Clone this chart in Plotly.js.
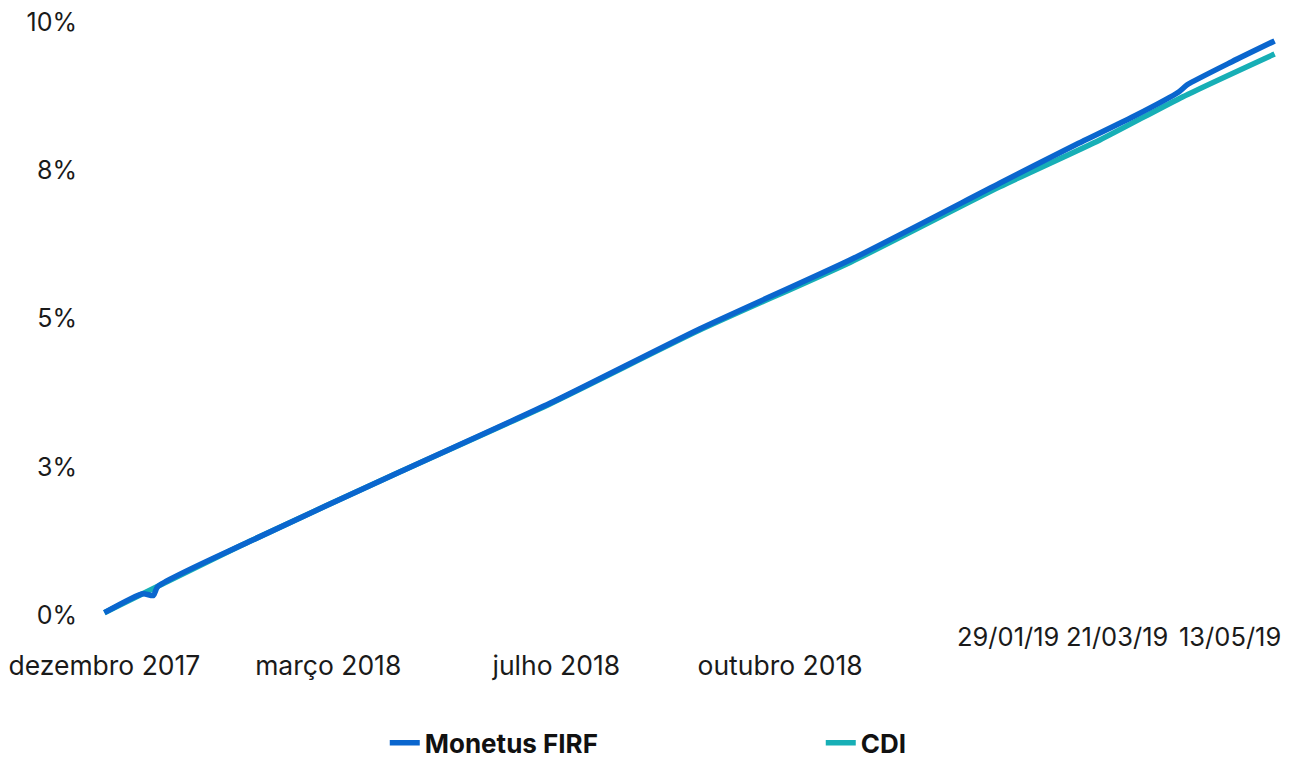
<!DOCTYPE html>
<html>
<head>
<meta charset="utf-8">
<script src="https://cdn.plot.ly/plotly-3.0.1.min.js"></script>
<style>html,body{margin:0;padding:0;background:#fff;}#chart{width:1299px;height:758px;}</style>
</head>
<body>
<div id="chart"></div>
<script>
// Monetus FIRF accumulated return (%)
const monetusDates = ['2017-12-01','2017-12-19','2017-12-24','2017-12-26','2018-02-07','2018-04-19','2018-06-28','2018-09-06','2018-11-16','2019-01-25','2019-02-28','2019-03-29','2019-04-19','2019-04-23','2019-05-14','2019-06-03'];
const monetusValues = [0.04,0.36,0.33,0.48,1.24,2.42,3.57,4.82,5.99,7.28,7.90,8.41,8.82,8.94,9.33,9.68];
// CDI accumulated return (%)
const cdiDates = ['2017-12-01','2018-02-07','2018-04-19','2018-06-28','2018-09-06','2018-11-16','2019-01-25','2019-03-13','2019-04-21','2019-06-03'];
const cdiValues = [0.04,1.24,2.42,3.56,4.80,5.95,7.22,8.01,8.74,9.46];

const yTickVals = [0,2.5,5,7.5,10];
const yTickText = ['0%','3%','5%','8%','10%'];
const monthTickVals = ['2017-12-01','2018-03-16','2018-07-01','2018-10-14'];
const monthTickText = ['dezembro 2017','março 2018','julho 2018','outubro 2018'];
const dateTickVals = ['2019-01-29','2019-03-21','2019-05-13'];
const dateTickText = ['29/01/19','21/03/19','13/05/19'];

const xRange = ['2017-11-28','2019-06-06'];
const FONT = 'Inter, "Noto Sans", Roboto, sans-serif';

const traces = [
  {x: cdiDates, y: cdiValues, name: 'CDI', type: 'scatter', mode: 'lines',
   line: {color: '#17AFB6', width: 5.5, shape: 'spline', smoothing: 0.6}, legendrank: 2, hoverinfo: 'skip'},
  {x: monetusDates, y: monetusValues, name: 'Monetus FIRF', type: 'scatter', mode: 'lines',
   line: {color: '#0A66CE', width: 5.5, shape: 'spline', smoothing: 0.6}, legendrank: 1, hoverinfo: 'skip'}
];

const annotations = dateTickVals.map((d, i) => ({
  x: d, xref: 'x', y: 0, yref: 'paper', yshift: -15, yanchor: 'middle', xanchor: 'center',
  text: dateTickText[i], showarrow: false,
  font: {family: FONT, size: 25.5, color: '#1a1a1a'}
}));

const layout = {
  width: 1299, height: 758,
  paper_bgcolor: '#fff', plot_bgcolor: '#fff',
  margin: {l: 98, r: 18, t: 16, b: 137},
  font: {family: FONT, size: 25, color: '#1a1a1a'},
  showlegend: true,
  legend: {orientation: 'h', xref: 'container', yref: 'container', x: 0.2962, xanchor: 'left',
           y: 0.02, yanchor: 'middle', entrywidth: 391, entrywidthmode: 'pixels',
           font: {family: FONT, size: 26, color: '#111', weight: 'bold'}},
  xaxis: {type: 'date', range: xRange, showgrid: false, zeroline: false, showline: false,
          ticks: '', tickmode: 'array', tickvals: monthTickVals, ticktext: monthTickText,
          tickfont: {size: 26.5}, ticklabelstandoff: 26, fixedrange: true},
  yaxis: {range: [-0.1, 10.1], showgrid: false, zeroline: false, showline: false, ticks: '',
          tickmode: 'array', tickvals: yTickVals, ticktext: yTickText,
          ticklabelstandoff: 20, fixedrange: true},
  annotations: annotations
};

Plotly.newPlot('chart', traces, layout, {displayModeBar: false, staticPlot: true});
</script>
</body>
</html>
